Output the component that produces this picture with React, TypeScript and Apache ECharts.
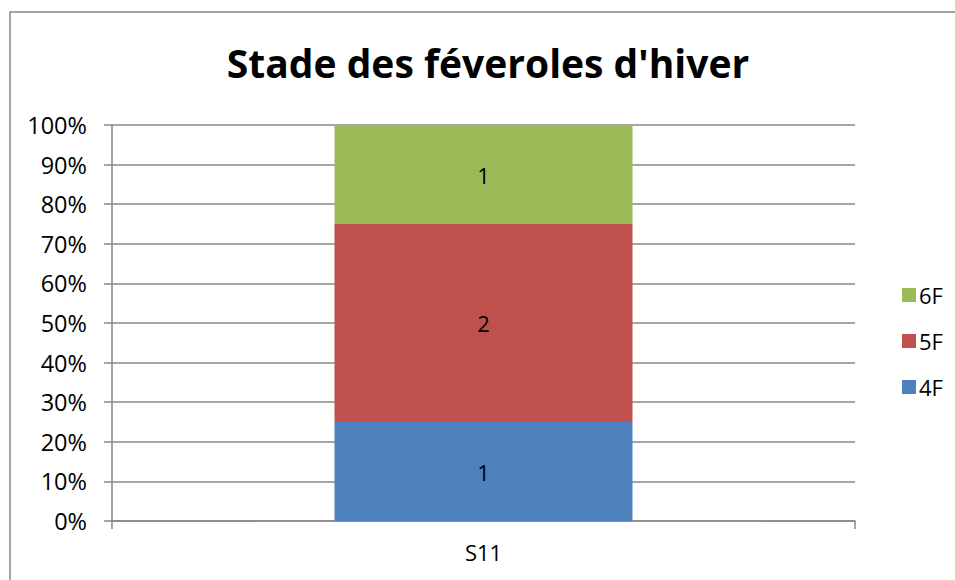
import React, { useEffect, useRef } from "react";
import * as echarts from "echarts";

const categories = ["S11"];
const seriesNames = ["4F", "5F", "6F"];
const counts4F = [1];
const counts5F = [2];
const counts6F = [1];
const colors = ["#4F81BD", "#C0504D", "#9BBB59"];
const title = "Stade des féveroles d'hiver";
const FONT = "'Open Sans', 'Noto Sans', sans-serif";

export default function App() {
  const ref = useRef<HTMLDivElement>(null);
  useEffect(() => {
    if (!ref.current) return;
    const chart = echarts.init(ref.current, null, { renderer: "svg" });
    const all = [counts4F, counts5F, counts6F];
    const totals = categories.map((_, i) => all.reduce((s, a) => s + a[i], 0));
    const series = all.map((arr, k) => ({
      name: seriesNames[k],
      type: "bar",
      stack: "total",
      barWidth: 298,
      itemStyle: { color: colors[k] },
      label: {
        show: true,
        position: "inside",
        color: "#000",
        fontFamily: FONT,
        fontSize: 22,
        formatter: (p: any) => String(arr[p.dataIndex]),
      },
      data: arr.map((v, i) => (v / totals[i]) * 100),
    }));
    chart.setOption({
      animation: false,
      backgroundColor: "#fff",
      title: {
        text: title,
        left: 483,
        textAlign: "center",
        top: 38,
        textStyle: { fontFamily: FONT, fontWeight: "bold", fontSize: 39, color: "#000" },
      },
      graphic: [
        {
          type: "polyline",
          shape: { points: [[10, 585], [10, 12], [960, 12]] },
          style: { stroke: "#888", lineWidth: 1.5, fill: "none" },
        },
      ],
      legend: {
        orient: "vertical",
        left: 897,
        top: 279,
        itemWidth: 14,
        itemHeight: 14,
        itemGap: 24,
        icon: "rect",
        data: ["6F", "5F", "4F"],
        textStyle: { fontFamily: FONT, fontSize: 22, color: "#000", padding: [0, 0, 0, -2] },
      },
      grid: { left: 112, right: 100, top: 125, bottom: 59 },
      xAxis: {
        type: "category",
        data: categories,
        axisLine: { lineStyle: { color: "#888", width: 1.5 } },
        axisTick: { show: true, length: 8, lineStyle: { color: "#888", width: 1.5 } },
        axisLabel: { fontFamily: FONT, fontSize: 22, color: "#000", margin: 20 },
      },
      yAxis: {
        type: "value",
        min: 0,
        max: 100,
        interval: 10,
        axisLine: { show: true, lineStyle: { color: "#888", width: 1.5 } },
        axisTick: { show: true, length: 8, lineStyle: { color: "#888", width: 1.5 } },
        splitLine: { lineStyle: { color: "#888", width: 1.5 } },
        axisLabel: {
          fontFamily: FONT,
          fontSize: 23.5,
          color: "#000",
          margin: 25,
          formatter: (v: number) => `${v}%`,
        },
      },
      series,
    });
    return () => chart.dispose();
  }, []);
  return (
    <div
      ref={ref}
      style={{ position: "absolute", left: 0, top: 0, width: 955, height: 580 }}
    />
  );
}
